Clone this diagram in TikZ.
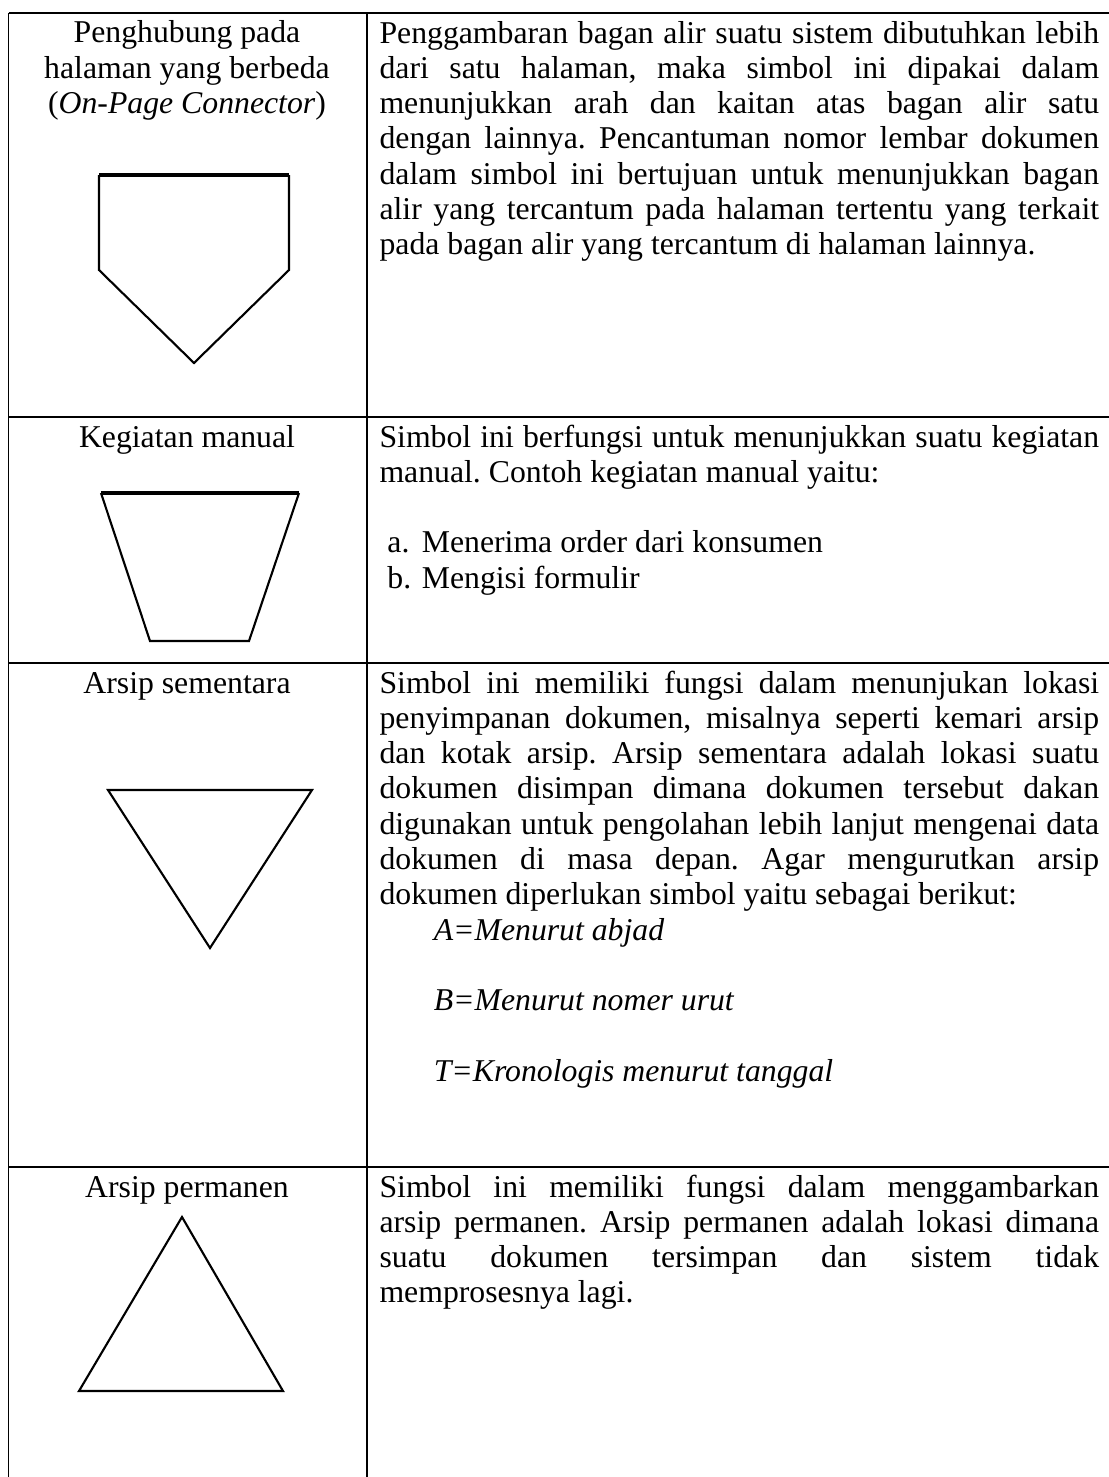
\documentclass[tikz,border=0pt]{standalone}
\usepackage{fontspec}
\setmainfont{Liberation Serif}
\frenchspacing
\tikzset{
  rule/.style={line width=0.75pt},
  sym/.style={line width=0.8pt, line join=miter},
  symtop/.style={line width=1.2pt},
  symlabel/.style={anchor=base, align=center, inner sep=0pt, font=\fontsize{12pt}{13.35pt}\selectfont},
  desc/.style={anchor=base west, text width=272pt, align=justify, inner sep=0pt, font=\fontsize{12pt}{13.35pt}\selectfont}
}
\begin{document}
\begin{tikzpicture}[x=0.378pt, y=-0.378pt]
\useasboundingbox (0,0) rectangle (1109,1477);
% table lines
\draw[rule] (8.5,13) -- (1109,13);
\draw[rule] (8.5,417) -- (1109,417);
\draw[rule] (8.5,663) -- (1109,663);
\draw[rule] (8.5,1167) -- (1109,1167);
\draw[rule] (8.5,13) -- (8.5,1477);
\draw[rule] (367,13) -- (367,1477);
% left column (multi-line label sits on its last baseline)
\node[symlabel] (n1) at (187,113.6) {Penghubung pada\\halaman yang berbeda\\(\textit{On-Page Connector})};
\node[symlabel] (n2) at (187,447) {Kegiatan manual};
\node[symlabel] (n3) at (187,693) {Arsip sementara};
\node[symlabel] (n4) at (187,1197) {Arsip permanen};
% symbols
\draw[sym] (99,175) -- (99,270) -- (194,363) -- (289,270) -- (289,175);
\draw[symtop] (99,175) -- (289,175);
\draw[sym] (101,493) -- (150,641) -- (249,641) -- (299,493);
\draw[symtop] (101,493) -- (299,493);
\draw[sym] (108,790) -- (210,948) -- (312,790) -- cycle;
\draw[sym] (182,1217) -- (79,1391) -- (283,1391) -- cycle;
% right column
\node[desc] (d1) at (379,43) {\sloppy
Penggambaran bagan alir suatu sistem dibutuhkan lebih\linebreak
dari satu halaman, maka simbol ini dipakai dalam\linebreak
menunjukkan arah dan kaitan atas bagan alir satu\linebreak
dengan lainnya. Pencantuman nomor lembar dokumen\linebreak
dalam simbol ini bertujuan untuk menunjukkan bagan\linebreak
alir yang tercantum pada halaman tertentu yang terkait\linebreak
pada bagan alir yang tercantum di halaman lainnya.};
\node[desc] (d2) at (379,447) {\sloppy
Simbol ini berfungsi untuk menunjukkan suatu kegiatan\linebreak
manual. Contoh kegiatan manual yaitu:\par
\mbox{}\par
\hspace*{3pt}\makebox[13pt][l]{a.}Menerima order dari konsumen\par
\hspace*{3pt}\makebox[13pt][l]{b.}Mengisi formulir};
\node[desc] (d3) at (379,693) {\sloppy
Simbol ini memiliki fungsi dalam menunjukan lokasi\linebreak
penyimpanan dokumen, misalnya seperti kemari arsip\linebreak
dan kotak arsip. Arsip sementara adalah lokasi suatu\linebreak
dokumen disimpan dimana dokumen tersebut dakan\linebreak
digunakan untuk pengolahan lebih lanjut mengenai data\linebreak
dokumen di masa depan. Agar mengurutkan arsip\linebreak
dokumen diperlukan simbol yaitu sebagai berikut:\par
\hspace*{20.5pt}\textit{A=Menurut abjad}\par
\mbox{}\par
\hspace*{20.5pt}\textit{B=Menurut nomer urut}\par
\mbox{}\par
\hspace*{20.5pt}\textit{T=Kronologis menurut tanggal}};
\node[desc] (d4) at (379,1197) {\sloppy
Simbol ini memiliki fungsi dalam menggambarkan\linebreak
arsip permanen. Arsip permanen adalah lokasi dimana\linebreak
suatu dokumen tersimpan dan sistem tidak\linebreak
memprosesnya lagi.};
\end{tikzpicture}
\end{document}
